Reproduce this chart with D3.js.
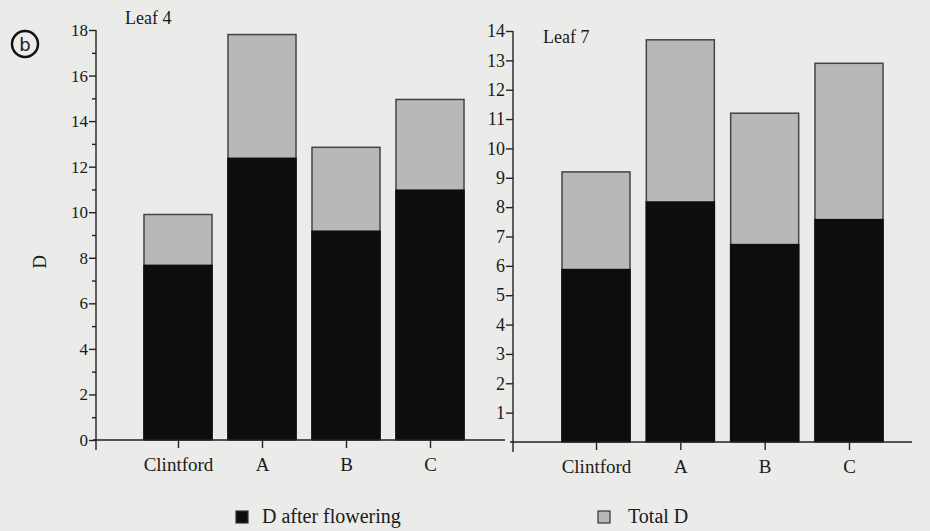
<!DOCTYPE html>
<html>
<head>
<meta charset="utf-8">
<script src="https://cdn.jsdelivr.net/npm/d3@7"></script>
<style>
  body { margin: 0; background: #ebebe9; }
  svg { display: block; }
  .axis path, .axis line { stroke: #222; stroke-width: 1.4; }
</style>
</head>
<body>
<div class="chart"></div>
<script>
var svgWidth = 930;
var svgHeight = 531;
var serif = "Liberation Serif";

// data
var cultivars = ["Clintford", "A", "B", "C"];
var leaf4After = [7.7, 12.4, 9.2, 11.0];
var leaf4Total = [9.9, 17.8, 12.85, 14.95];
var leaf7After = [5.9, 8.2, 6.75, 7.6];
var leaf7Total = [9.2, 13.7, 11.2, 12.9];
var leaf4Ticks = [0, 2, 4, 6, 8, 10, 12, 14, 16, 18];
var leaf4Minor = [1, 3, 5, 7, 9, 11, 13, 15, 17];
var leaf7Ticks = [1, 2, 3, 4, 5, 6, 7, 8, 9, 10, 11, 12, 13, 14];

var svg = d3.select(".chart")
  .append("svg")
  .attr("width", svgWidth)
  .attr("height", svgHeight)
  .attr("font-family", serif);

var barWidth = 68;

function drawPanel(opts) {
  var y = d3.scaleLinear().domain([0, opts.max]).range([opts.y0, opts.y1]);
  var x = d3.scalePoint().domain(cultivars).range([opts.xFirst, opts.xLast]);

  var rows = cultivars.map(function(c, i) {
    return { name: c, after: opts.after[i], total: opts.total[i] };
  });

  // total D (grey part, drawn full height, black on top of it)
  svg.selectAll(null)
    .data(rows)
    .enter()
    .append("rect")
    .attr("x", d => x(d.name) - barWidth / 2)
    .attr("y", d => y(d.total))
    .attr("width", barWidth)
    .attr("height", d => y(0) - y(d.total))
    .attr("fill", "#b8b8b6")
    .attr("stroke", "#444")
    .attr("stroke-width", 1.5);

  svg.selectAll(null)
    .data(rows)
    .enter()
    .append("rect")
    .attr("x", d => x(d.name) - barWidth / 2 - 0.75)
    .attr("y", d => y(d.after))
    .attr("width", barWidth + 1.5)
    .attr("height", d => y(0) - y(d.after))
    .attr("fill", "#0d0d0d");

  // baseline
  svg.append("line")
    .attr("x1", opts.axisX - 3)
    .attr("x2", opts.baseEnd)
    .attr("y1", y(0))
    .attr("y2", y(0))
    .attr("stroke", "#222")
    .attr("stroke-width", 1.4);

  // category ticks + labels
  var xAxis = svg.append("g")
    .attr("class", "axis")
    .attr("transform", `translate(0, ${y(0)})`)
    .call(d3.axisBottom(x).tickSize(8).tickPadding(10))
    .attr("font-family", serif)
    .attr("font-size", 19);
  xAxis.select(".domain").remove();
  xAxis.selectAll("text")
    .attr("fill", "#1a1a1a")
    .attr("dy", "0.71em");

  // y axis
  var yAxis = svg.append("g")
    .attr("class", "axis")
    .attr("transform", `translate(${opts.axisX}, 0)`)
    .call(d3.axisLeft(y).tickValues(opts.ticks).tickFormat(d3.format("d"))
      .tickSize(7).tickSizeOuter(0).tickPadding(1))
    .attr("font-family", serif)
    .attr("font-size", opts.fs);
  yAxis.select(".domain").attr("d", `M0,${opts.y1}V${opts.y0 + 10}`);
  yAxis.selectAll("text").attr("fill", "#1a1a1a");

  if (opts.minor) {
    var m = svg.append("g")
      .attr("class", "axis")
      .attr("transform", `translate(${opts.axisX}, 0)`)
      .call(d3.axisLeft(y).tickValues(opts.minor).tickSize(4).tickFormat(""));
    m.select(".domain").remove();
  }

  svg.append("text")
    .attr("x", opts.titleX)
    .attr("y", opts.titleY)
    .attr("font-size", 18)
    .attr("fill", "#1a1a1a")
    .text(opts.title);
}

drawPanel({
  max: 18, y0: 440, y1: 30, xFirst: 178, xLast: 430, axisX: 96, baseEnd: 505,
  after: leaf4After, total: leaf4Total, ticks: leaf4Ticks, minor: leaf4Minor,
  fs: 17, title: "Leaf 4", titleX: 125, titleY: 24
});

drawPanel({
  max: 14, y0: 442, y1: 31, xFirst: 596, xLast: 849, axisX: 513, baseEnd: 912,
  after: leaf7After, total: leaf7Total, ticks: leaf7Ticks, minor: null,
  fs: 18, title: "Leaf 7", titleX: 543, titleY: 43
});

// y axis title
svg.append("text")
  .attr("transform", "translate(46, 262) rotate(-90)")
  .attr("text-anchor", "middle")
  .attr("font-size", 19)
  .attr("fill", "#1a1a1a")
  .text("D");

// circled panel letter
svg.append("circle")
  .attr("cx", 25).attr("cy", 44).attr("r", 13)
  .attr("fill", "none").attr("stroke", "#111").attr("stroke-width", 2.5);
svg.append("text")
  .attr("x", 25).attr("y", 51)
  .attr("text-anchor", "middle")
  .attr("font-family", "DejaVu Sans")
  .attr("font-size", 18)
  .attr("fill", "#1a1a1a")
  .text("b");

// legend
var legend = [
  { label: "D after flowering", fill: "#0d0d0d", x: 236 },
  { label: "Total D", fill: "#b8b8b6", x: 598 }
];
var lg = svg.selectAll(".legend")
  .data(legend)
  .enter()
  .append("g")
  .attr("class", "legend")
  .attr("transform", d => `translate(${d.x}, 511)`);
lg.append("rect")
  .attr("width", 12).attr("height", 12)
  .attr("fill", d => d.fill)
  .attr("stroke", "#333").attr("stroke-width", 1.2);
lg.append("text")
  .attr("x", d => d.fill === "#0d0d0d" ? 26 : 30)
  .attr("y", 12)
  .attr("font-size", 20)
  .attr("fill", "#1a1a1a")
  .text(d => d.label);
</script>
</body>
</html>
